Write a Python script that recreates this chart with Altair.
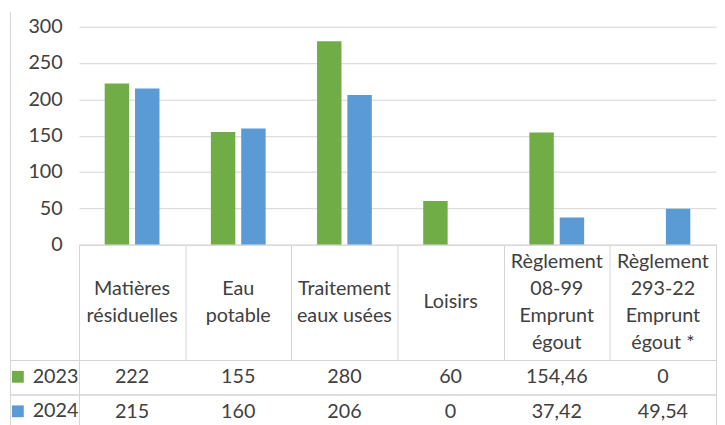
import altair as alt
import pandas as pd

categories = [
    "Matières\nrésiduelles",
    "Eau\npotable",
    "Traitement\neaux usées",
    "Loisirs",
    "Règlement\n08-99\nEmprunt\négout",
    "Règlement\n293-22\nEmprunt\négout *",
]
years = ["2023", "2024"]
values_2023 = [222, 155, 280, 60, 154.46, 0]
values_2024 = [215, 160, 206, 0, 37.42, 49.54]
y_ticks = [0, 50, 100, 150, 200, 250, 300]

colors = ["#70AD47", "#5B9BD5"]
border = "#D4D4D4"
text_color = "#404040"
FONT = "Lato"
FS = 20
W = 646
HEADER_H = 117
LINE_H = 27.5

bar_df = pd.DataFrame({
    "cat": categories * 2,
    "year": [years[0]] * len(categories) + [years[1]] * len(categories),
    "value": values_2023 + values_2024,
})

x_scale = alt.Scale(domain=categories, paddingInner=0, paddingOuter=0)

bars = alt.Chart(bar_df).mark_bar().encode(
    x=alt.X("cat:N", scale=x_scale, sort=categories, axis=None),
    xOffset=alt.XOffset("year:N", scale=alt.Scale(domain=years, paddingInner=0.194, paddingOuter=0.847)),
    y=alt.Y("value:Q",
            scale=alt.Scale(domain=[0, 320.4], nice=False, zero=True),
            axis=alt.Axis(values=y_ticks, title=None, grid=True, gridColor=border,
                          ticks=False, domain=True, domainColor=border, offset=70,
                          labelPadding=-53, labelAlign="right", labelFont=FONT,
                          labelFontSize=FS, labelColor=text_color)),
    color=alt.Color("year:N", scale=alt.Scale(domain=years, range=colors),
                    legend=alt.Legend(title=None, orient="none", legendX=-72, legendY=360,
                                      direction="vertical", symbolType="square",
                                      symbolSize=144, symbolStrokeWidth=0,
                                      labelFont=FONT, labelFontSize=FS,
                                      labelColor=text_color, labelOffset=5,
                                      rowPadding=15, padding=0)),
).properties(width=W, height=236, view=alt.ViewBackground(stroke="transparent"))

x_grid_axis = alt.Axis(grid=True, gridColor=border, tickBand="extent", ticks=False,
                       labels=False, domain=False, title=None)

# header: one row per text line, centred in the cell through a linear scale
rows = []
for c in categories:
    parts = c.split("\n")
    n = len(parts)
    for i, p in enumerate(parts):
        rows.append({"cat": c, "line": p, "pos": (n - 1) / 2 - i})
header_df = pd.DataFrame(rows)
half = HEADER_H / LINE_H / 2

header = alt.Chart(header_df).mark_text(
    font=FONT, fontSize=FS, color=text_color
).encode(
    x=alt.X("cat:N", scale=x_scale, sort=categories, axis=x_grid_axis),
    y=alt.Y("pos:Q", scale=alt.Scale(domain=[-half, half], nice=False, zero=False),
            axis=alt.Axis(domain=True, domainColor=border, offset=70,
                          ticks=False, labels=False, grid=False, title=None)),
    text="line:N",
).properties(width=W, height=HEADER_H)


def row_chart(year, vals):
    df = pd.DataFrame({"cat": categories, "year": [year] * len(categories), "value": vals})
    base = alt.Chart(df).transform_calculate(
        label="replace(toString(datum.value), '.', ',')"
    )
    txt = base.mark_text(font=FONT, fontSize=FS, color=text_color).encode(
        x=alt.X("cat:N", scale=x_scale, sort=categories, axis=x_grid_axis),
        y=alt.Y("year:N", axis=alt.Axis(orient="left", ticks=True, tickBand="extent",
                                        tickSize=70, tickColor=border, labels=False,
                                        domain=False, grid=False, title=None)),
        text="label:N",
    )
    frame = base.mark_text(opacity=0).encode(
        x=alt.X("cat:N", scale=x_scale, sort=categories, axis=None),
        y=alt.Y("year:N", axis=alt.Axis(orient="left", offset=70, domain=True,
                                        domainColor=border, ticks=False, labels=False,
                                        grid=False, title=None)),
        text="label:N",
    )
    return alt.layer(txt, frame).resolve_axis(y="independent").properties(width=W, height=35)


row23 = row_chart(years[0], values_2023)
row24 = row_chart(years[1], values_2024)

chart = alt.vconcat(bars, header, row23, row24, spacing=0, bounds="flush").properties(
    padding=0, background="white"
).configure_view(stroke=border, strokeWidth=1)

chart.save("out.html", embed_options={"renderer": "svg", "actions": False})
